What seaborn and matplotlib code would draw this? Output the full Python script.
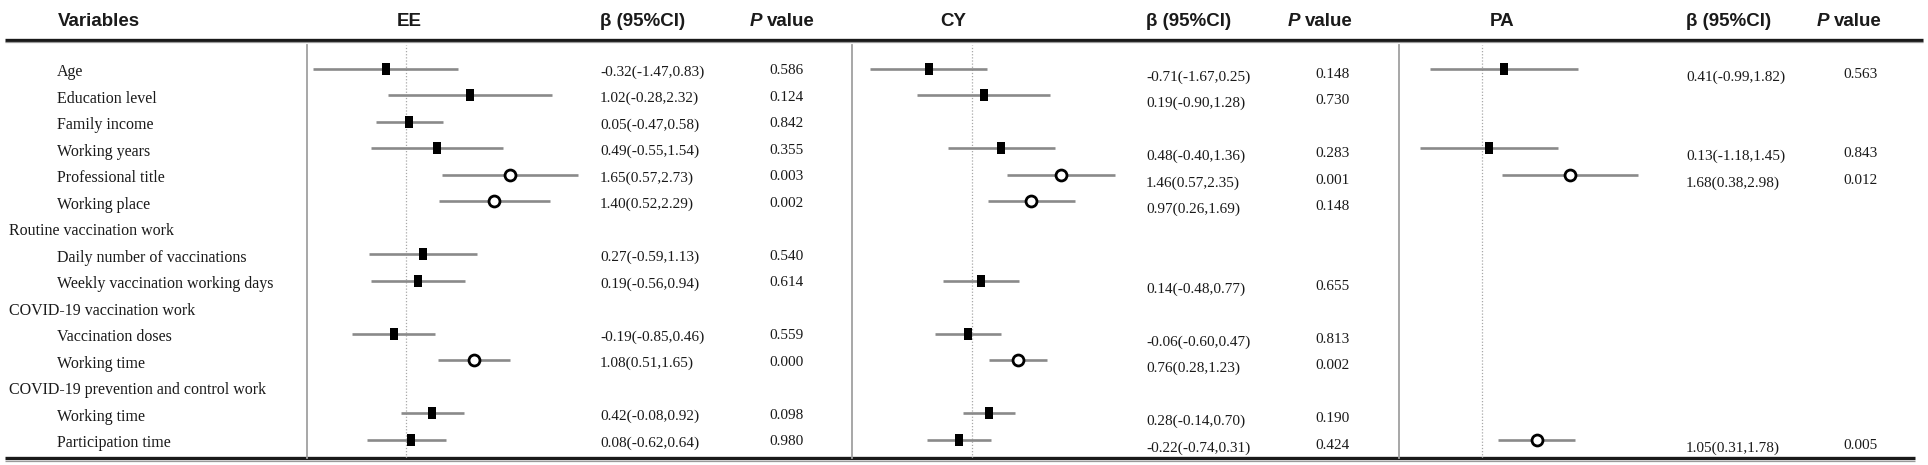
import numpy as np
import pandas as pd
import matplotlib
matplotlib.use("Agg")
import matplotlib.pyplot as plt
import seaborn as sns

# table rows
labels = ["Age", "Education level", "Family income", "Working years",
          "Professional title", "Working place", "Routine vaccination work",
          "Daily number of vaccinations", "Weekly vaccination working days",
          "COVID-19 vaccination work", "Vaccination doses", "Working time",
          "COVID-19 prevention and control work", "Working time",
          "Participation time"]
group_rows = [6, 9, 12]

# EE
ee_beta = [-0.32, 1.02, 0.05, 0.49, 1.65, 1.40, None, 0.27, 0.19, None, -0.19, 1.08, None, 0.42, 0.08]
ee_low = [-1.47, -0.28, -0.47, -0.55, 0.57, 0.52, None, -0.59, -0.56, None, -0.85, 0.51, None, -0.08, -0.62]
ee_high = [0.83, 2.32, 0.58, 1.54, 2.73, 2.29, None, 1.13, 0.94, None, 0.46, 1.65, None, 0.92, 0.64]
ee_p = ["0.586", "0.124", "0.842", "0.355", "0.003", "0.002", None, "0.540", "0.614", None,
        "0.559", "0.000", None, "0.098", "0.980"]

# CY
cy_beta = [-0.71, 0.19, None, 0.48, 1.46, 0.97, None, None, 0.14, None, -0.06, 0.76, None, 0.28, -0.22]
cy_low = [-1.67, -0.90, None, -0.40, 0.57, 0.26, None, None, -0.48, None, -0.60, 0.28, None, -0.14, -0.74]
cy_high = [0.25, 1.28, None, 1.36, 2.35, 1.69, None, None, 0.77, None, 0.47, 1.23, None, 0.70, 0.31]
cy_p = ["0.148", "0.730", None, "0.283", "0.001", "0.148", None, None, "0.655", None,
        "0.813", "0.002", None, "0.190", "0.424"]

# PA
pa_beta = [0.41, None, None, 0.13, 1.68, None, None, None, None, None, None, None, None, None, 1.05]
pa_low = [-0.99, None, None, -1.18, 0.38, None, None, None, None, None, None, None, None, None, 0.31]
pa_high = [1.82, None, None, 1.45, 2.98, None, None, None, None, None, None, None, None, None, 1.78]
pa_p = ["0.563", None, None, "0.843", "0.012", None, None, None, None, None,
        None, None, None, None, "0.005"]

sns.set_style("white")
plt.rcParams['font.family'] = ['Liberation Serif', 'DejaVu Serif']

W, H = 1928, 465
fig = plt.figure(figsize=(W / 100, H / 100), dpi=100)

# background axes in pixel units for the table text and rules
bg = fig.add_axes([0, 0, 1, 1])
bg.set_xlim(0, W)
bg.set_ylim(H, 0)
bg.axis("off")

row0, step = 72, 26.5
top, bottom = 45, 458


def row_y(i):
    return row0 + step * i


txt_col = "#1a1a1a"
head = dict(family=["Liberation Sans", "DejaVu Sans"], fontsize=13.5, fontweight="bold",
            color=txt_col, va="center")

bg.text(58, 22, "Variables", ha="left", **head)
panels = [
    ("EE", ee_beta, ee_low, ee_high, ee_p, dict(left=307, right=600, zero=406, ppu=63,
                                                 head=409, beta_x=600, p_x=786, p_head=782,
                                                 bdy=0.0, pdy=-0.05)),
    ("CY", cy_beta, cy_low, cy_high, cy_p, dict(left=852, right=1140, zero=972, ppu=61,
                                                 head=953, beta_x=1146, p_x=1333, p_head=1320,
                                                 bdy=0.18, pdy=0.08)),
    ("PA", pa_beta, pa_low, pa_high, pa_p, dict(left=1399, right=1680, zero=1482, ppu=52.5,
                                                 head=1502, beta_x=1686, p_x=1860, p_head=1849,
                                                 bdy=0.18, pdy=0.08)),
]

for name, beta, low, high, pv, g in panels:
    bg.text(g["head"], 22, name, ha="center", **head)
    bg.text(g["beta_x"], 22, "β (95%CI)", ha="left", **head)
    bg.text(g["p_head"] - 20, 22, "P", ha="right", **{**head, "fontstyle": "italic"})
    bg.text(g["p_head"] - 15, 22, "value", ha="left", **head)

# row labels
for i, lab in enumerate(labels):
    if i in group_rows:
        bg.text(9, row_y(i), lab, ha="left", va="center", fontsize=11.5, color=txt_col)
    else:
        bg.text(57, row_y(i), lab, ha="left", va="center", fontsize=11.5, color=txt_col)

# top and bottom rules
bg.hlines(40, 5, 1923, color="#1a1a1a", lw=2.4)
bg.hlines(42.5, 5, 1923, color="#9a9a9a", lw=0.9)
bg.hlines(458, 5, 1915, color="#1a1a1a", lw=2.4)
bg.hlines(460.5, 5, 1915, color="#9a9a9a", lw=0.9)

rect = [(-0.7, -1), (0.7, -1), (0.7, 1), (-0.7, 1), (-0.7, -1)]

for name, beta, low, high, pv, g in panels:
    df = pd.DataFrame({"row": np.arange(len(labels)), "beta": beta, "low": low,
                       "high": high, "p": pv}).astype({"beta": float, "low": float, "high": float})
    est = df.dropna(subset=["beta"]).copy()
    est["sig"] = (est["low"] > 0) | (est["high"] < 0)
    est["ym"] = est["row"] - 0.12

    ax = fig.add_axes([g["left"] / W, 1 - bottom / H, (g["right"] - g["left"]) / W, (bottom - top) / H])
    ax.patch.set_alpha(0)
    ax.set_xlim((g["left"] - g["zero"]) / g["ppu"], (g["right"] - g["zero"]) / g["ppu"])
    ax.set_ylim((bottom - row0) / step, (top - row0) / step)
    ax.axvline(0, color="#a8a8a8", lw=0.9, ls=(0, (1, 1.5)), zorder=1)
    ax.hlines(est["ym"], est["low"], est["high"], color="#8a8a8a", lw=1.9, zorder=2)
    sns.scatterplot(data=est[~est["sig"]], x="beta", y="ym", marker=rect, s=85,
                    color="black", edgecolor="black", linewidth=0, ax=ax, zorder=3)
    sns.scatterplot(data=est[est["sig"]], x="beta", y="ym", marker="o", s=62,
                    facecolor="white", edgecolor="black", linewidth=2, ax=ax, zorder=3)
    ax.set_xlabel("")
    ax.set_ylabel("")
    ax.set_xticks([])
    ax.set_yticks([])
    for s in ["top", "right", "bottom"]:
        ax.spines[s].set_visible(False)
    ax.spines["left"].set_color("#a0a0a0")
    ax.spines["left"].set_linewidth(1.3)

    for _, r in est.iterrows():
        bg.text(g["beta_x"], row_y(r["row"] + g["bdy"]),
                f"{r['beta']:.2f}({r['low']:.2f},{r['high']:.2f})",
                ha="left", va="center", fontsize=11, color=txt_col)
    for i, p in enumerate(pv):
        if p is not None:
            bg.text(g["p_x"], row_y(i + g["pdy"]), p, ha="center", va="center",
                    fontsize=11, color=txt_col)

fig.savefig("out.png", dpi=100)
